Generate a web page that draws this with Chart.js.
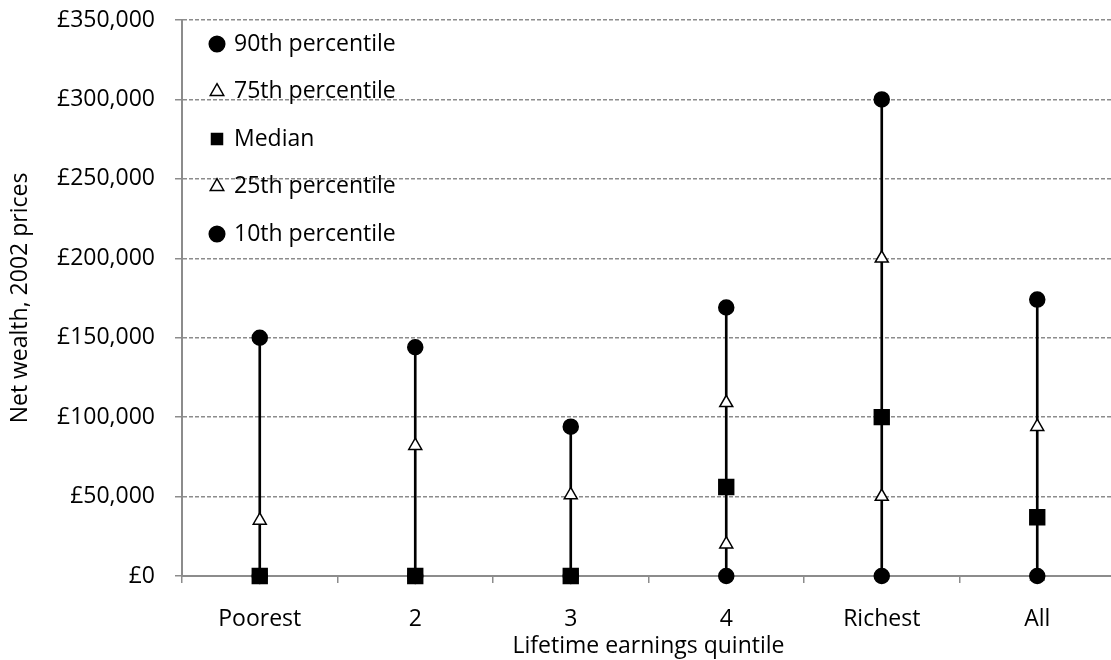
<!DOCTYPE html>
<html>
<head>
<meta charset="utf-8">
<script src="https://cdn.jsdelivr.net/npm/chart.js@4.4.1/dist/chart.umd.min.js"></script>
<style>
  html, body { margin: 0; padding: 0; background: #fff; overflow: hidden; }
  /* the plot runs a little past the right edge of the picture */
  .chart { width: 1127px; height: 660px; }
</style>
</head>
<body>
<div class="chart"><canvas id="myChart"></canvas></div>
<script>
// values (net wealth, 2002 prices)
const quintiles = ['Poorest', '2', '3', '4', 'Richest', 'All'];
const p90 = [150000, 144000, 94000, 169000, 300000, 174000];
const p75 = [35000, 82000, 51000, 109000, 200000, 94000];
const median = [0, 0, 0, 56000, 100000, 37000];
const p25 = [0, 0, 0, 20000, 50000, 0];
const p10 = [0, 0, 0, 0, 0, 0];
const yMax = 350000;
const yStep = 50000;

const FONT = 'Open Sans';
const FS = 23;

// high-low line from 10th to 90th percentile
const ranges = quintiles.map((q, i) => [p10[i], p90[i]]);

function markers(label, data, style, fill, radius, order) {
  return {
    type: 'line',
    label: label,
    data: data,
    showLine: false,
    clip: false, // markers sitting on £0 must not be cut in half
    pointStyle: style,
    pointRadius: radius,
    pointHoverRadius: radius,
    pointBackgroundColor: fill,
    pointBorderColor: '#000',
    pointBorderWidth: 1.5,
    backgroundColor: fill,
    borderColor: '#000',
    borderWidth: 1.5,
    order: order,
  };
}

// put the legend inside the plot, top-left, like the original
const legendSpot = {
  id: 'legendSpot',
  afterLayout(chart) {
    const lg = chart.legend;
    const pad = lg.options.labels.padding;
    lg.left = 217 - pad - 11 / 2;
    lg.top = 44 - pad - FS / 2;
    lg.bottom = lg.top + 400;
  },
};

const ctx = document.getElementById('myChart').getContext('2d');
const chart = new Chart(ctx, {
  type: 'line',
  data: {
    labels: quintiles,
    datasets: [
      markers('90th percentile', p90, 'circle', '#000', 7.5, 3),
      markers('75th percentile', p75, 'triangle', '#fff', 7.5, 5),
      markers('Median', median, 'rect', '#000', 10.5, 1),
      markers('25th percentile', p25, 'triangle', '#fff', 7.5, 4),
      markers('10th percentile', p10, 'circle', '#000', 7.5, 2),
      {
        type: 'bar',
        label: 'range',
        data: ranges,
        backgroundColor: '#000',
        barThickness: 2,
        order: 10,
      },
    ],
  },
  plugins: [legendSpot],
  options: {
    responsive: true,
    maintainAspectRatio: false,
    animation: false,
    layout: { padding: { left: 0, top: 0, right: 0, bottom: 0 } },
    plugins: {
      tooltip: { enabled: false },
      legend: {
        position: 'chartArea',
        align: 'start',
        labels: {
          usePointStyle: true,
          boxWidth: 11,
          boxHeight: 11,
          padding: 24.5,
          color: '#000',
          font: { family: FONT, size: FS },
          filter: (item) => item.text !== 'range',
          sort: (a, b) => a.datasetIndex - b.datasetIndex,
        },
      },
    },
    scales: {
      x: {
        offset: true,
        grid: {
          offset: true,
          drawOnChartArea: false,
          tickLength: 7,
          color: '#8c8c8c',
          lineWidth: 1.5,
        },
        border: { color: '#8c8c8c', width: 2 },
        ticks: {
          color: '#000',
          font: { family: FONT, size: FS, lineHeight: 1 },
          padding: 25,
        },
        title: {
          display: true,
          text: 'Lifetime earnings quintile',
          color: '#000',
          font: { family: FONT, size: FS },
          padding: { top: 0, bottom: 0 },
        },
        afterFit: (s) => {
          s.height = 84;
          s.paddingLeft = 0;
          s.paddingRight = 0;
        },
      },
      y: {
        min: 0,
        max: yMax,
        ticks: {
          stepSize: yStep,
          color: '#000',
          padding: 20,
          font: { family: FONT, size: FS },
          callback: (v) => '£' + v.toLocaleString('en-GB'),
        },
        grid: {
          color: '#8c8c8c',
          lineWidth: 1.5,
          tickLength: 7,
        },
        border: { color: '#8c8c8c', width: 2, dash: [4, 2] },
        title: {
          display: true,
          text: 'Net wealth, 2002 prices',
          color: '#000',
          font: { family: FONT, size: FS },
          padding: { top: 7, bottom: 0 },
        },
        afterFit: (s) => {
          s.width = 182;
          s.paddingTop = 20;
          s.paddingBottom = 0;
        },
      },
    },
  },
});
</script>
</body>
</html>
